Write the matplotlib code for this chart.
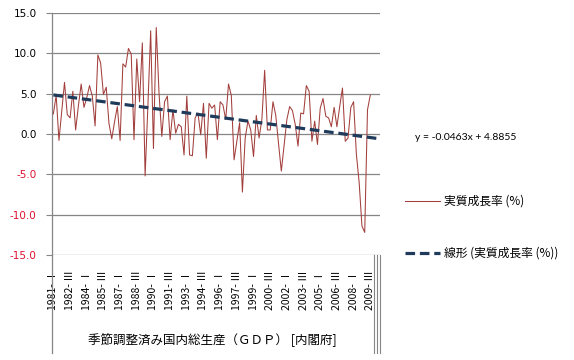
import matplotlib
matplotlib.use("Agg")
import matplotlib.pyplot as plt
import numpy as np

plt.rcParams['font.family'] = ['DejaVu Sans', 'Noto Sans CJK JP']

# quarterly real growth (%), 1981 Q1 .. 2009 Q3
growth = [2.5, 4.8, -0.8, 2.8, 6.4, 2.4, 2.0, 5.3, 0.5, 3.5,
          6.2, 3.3, 4.5, 6.0, 4.7, 1.0, 9.8, 8.8, 4.9, 5.8,
          1.3, -0.6, 1.5, 3.4, -0.8, 8.7, 8.3, 10.6, 9.9, -0.7,
          9.3, 4.0, 11.3, -5.2, 3.5, 12.8, -1.8, 13.2, 5.1, -0.3,
          4.0, 4.7, -0.7, 3.0, 0.1, 1.2, 0.9, -2.6, 4.7, -2.6,
          -2.7, 2.0, 2.6, -0.1, 3.8, -3.0, 3.8, 3.2, 3.6, -0.7,
          4.0, 3.6, 1.8, 6.2, 4.8, -3.2, -0.9, 1.4, -7.2, -0.5,
          1.6, 0.5, -2.8, 2.3, -0.5, 1.8, 7.9, 0.5, 0.5, 4.0,
          2.3, -1.2, -4.6, -1.4, 1.8, 3.4, 2.9, 1.2, -1.5, 2.6,
          2.5, 6.0, 5.3, -0.9, 1.6, -1.3, 3.2, 4.4, 2.2, 2.0,
          0.9, 3.3, 0.9, 3.4, 5.7, -0.9, -0.5, 3.3, 4.0, -2.5,
          -6.0, -11.4, -12.2, 3.0, 4.8]
n_categories = 118
trend_slope = -0.0463
trend_intercept = 4.8855
tick_labels = ["1981- Ⅰ", "1982- Ⅲ", "1984- Ⅰ", "1985- Ⅲ", "1987- Ⅰ",
               "1988- Ⅲ", "1990- Ⅰ", "1991- Ⅲ", "1993- Ⅰ", "1994- Ⅲ",
               "1996- Ⅰ", "1997- Ⅲ", "1999- Ⅰ", "2000- Ⅲ", "2002- Ⅰ",
               "2003- Ⅲ", "2005- Ⅰ", "2006- Ⅲ", "2008- Ⅰ", "2009- Ⅲ"]
yticks = [-15, -10, -5, 0, 5, 10, 15]
series_label = "実質成長率 (%)"
trend_label = "線形 (実質成長率 (%))"
axis_title = "季節調整済み国内総生産（ＧＤＰ） [内閣府]"

W, H = 574, 360
fig = plt.figure(figsize=(W / 100, H / 100), dpi=100)
L, R, T, B = 52, 380, 13, 255
ax = fig.add_axes([L / W, 1 - B / H, (R - L) / W, (B - T) / H])

grid_c = '#868686'
x = np.arange(1, len(growth) + 1)
ax.plot(x, growth, color='#A23F3C', lw=0.75, label=series_label, zorder=3)
xt = np.array([1, n_categories])
ax.plot(xt, trend_slope * xt + trend_intercept, color='#1F3B5C', lw=2.3,
        linestyle=(0, (3, 1.5)), label=trend_label, zorder=4)

ax.set_xlim(0.5, n_categories + 0.5)
ax.set_ylim(-15, 15)
ax.set_yticks(yticks)
ax.set_yticklabels([f"{v:.1f}" for v in yticks], fontsize=7.5,
                   family=['DejaVu Sans'])
for lab, v in zip(ax.get_yticklabels(), yticks):
    lab.set_color('#DD1030' if v < 0 else 'black')
ax.yaxis.grid(True, color=grid_c, lw=0.9)
ax.set_axisbelow(True)
ax.tick_params(axis='y', length=4, width=0.8, color=grid_c, pad=7)

pos = [1 + 6 * k for k in range(len(tick_labels))]
ax.set_xticks(pos)
ax.set_xticklabels(tick_labels, rotation=90, fontsize=7.5,
                   family=['Noto Sans CJK JP'])
ax.tick_params(axis='x', length=0, pad=11)

for s in ['top', 'right', 'bottom']:
    ax.spines[s].set_visible(False)
ax.spines['left'].set_color(grid_c)
ax.spines['left'].set_linewidth(0.9)

# category axis group dividers extending below the plot area
trans = ax.get_xaxis_transform()
yb = ((H - 353) / H - (1 - B / H)) / ((B - T) / H)
ax.plot([0.5, 0.5], [0, yb], transform=trans, color=grid_c, lw=0.9,
        clip_on=False)
for xd in [n_categories - 1.5, n_categories - 0.5, n_categories + 0.5]:
    ax.plot([xd, xd], [0, yb], transform=trans, color=grid_c, lw=0.8,
            clip_on=False)

fig.text(212 / W, 1 - 340 / H, axis_title, ha='center', va='center',
         fontsize=9, family=['Noto Sans CJK JP'])

fig.text(415 / W, 1 - 138 / H, "y = -0.0463x + 4.8855", ha='left',
         va='center', fontsize=7.5, family=['Lato'])

leg = ax.legend(loc='upper left', bbox_to_anchor=(405 / W, 1 - 195 / H),
                bbox_transform=fig.transFigure, frameon=False,
                prop={'family': ['Noto Sans CJK JP'], 'size': 8.5},
                handlelength=3.0, handletextpad=0.3, labelspacing=3.3,
                borderpad=0, borderaxespad=0)

fig.savefig('out.png', dpi=100)
